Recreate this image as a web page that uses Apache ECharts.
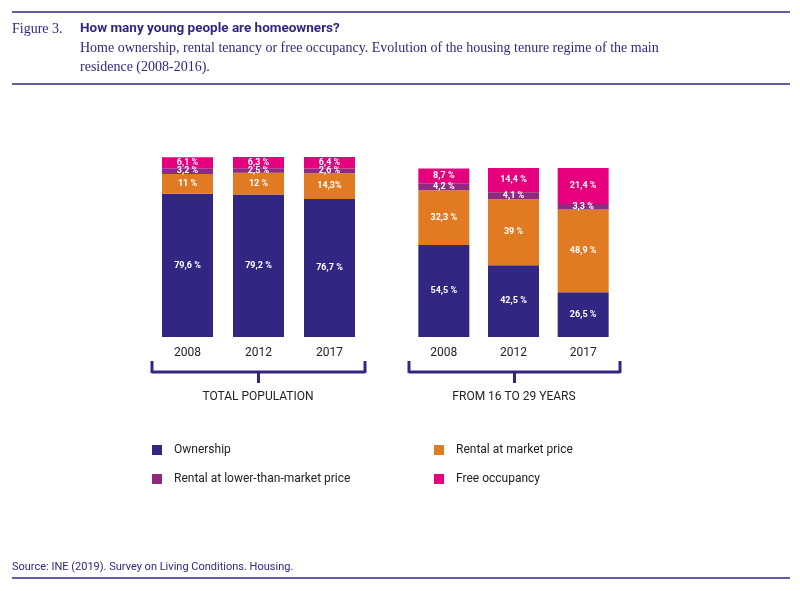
<!DOCTYPE html>
<html>
<head>
<meta charset="utf-8">
<script src="https://cdn.jsdelivr.net/npm/echarts@6/dist/echarts.min.js"></script>
<style>html,body{margin:0;padding:0;background:#fff}#chart{width:800px;height:591px}</style>
</head>
<body>
<div id="chart"></div>
<script>
const NAVY = "#312783";
const COLORS = { own: "#312783", market: "#e07b24", lower: "#8e2a82", free: "#e6007e" };
const years = ["2008", "2012", "2017"];

// values and printed labels, bottom to top
const total = {
  own: [79.6, 79.2, 76.7], ownL: ["79,6 %", "79,2 %", "76,7 %"],
  market: [11, 12, 14.3], marketL: ["11 %", "12 %", "14,3%"],
  lower: [3.2, 2.5, 2.6], lowerL: ["3,2 %", "2,5 %", "2,6 %"],
  free: [6.1, 6.3, 6.4], freeL: ["6,1 %", "6,3 %", "6,4 %"],
};
const young = {
  own: [54.5, 42.5, 26.5], ownL: ["54,5 %", "42,5 %", "26,5 %"],
  market: [32.3, 39, 48.9], marketL: ["32,3 %", "39 %", "48,9 %"],
  lower: [4.2, 4.1, 3.3], lowerL: ["4,2 %", "4,1 %", "3,3 %"],
  free: [8.7, 14.4, 21.4], freeL: ["8,7 %", "14,4 %", "21,4 %"],
};
const names = { own: "Ownership", market: "Rental at market price", lower: "Rental at lower-than-market price", free: "Free occupancy" };

function makeSeries(d, idx) {
  return ["own", "market", "lower", "free"].map((k) => ({
    name: names[k], type: "bar", stack: "s" + idx, xAxisIndex: idx, yAxisIndex: idx,
    barWidth: 51, data: d[k],
    itemStyle: { color: COLORS[k] },
    label: { show: true, color: "#fff", fontSize: 9, fontWeight: "bold", fontFamily: "Roboto",
      formatter: (p) => d[k + "L"][p.dataIndex] },
  }));
}

const axisX = (idx) => ({ type: "category", gridIndex: idx, data: years, axisLine: { show: false }, axisTick: { show: false },
  axisLabel: { color: "#222", fontSize: 12, fontFamily: "Roboto", margin: 10 } });
const axisY = (idx) => ({ type: "value", gridIndex: idx, min: 0, max: 100, show: false });

const text = (x, y, t, style) => ({ type: "text", left: x, top: y, style: Object.assign({ text: t, fill: NAVY, fontSize: 12, fontFamily: "Roboto" }, style) });
const ctext = (x, y, t) => ({ type: "text", x: x, y: y, style: { text: t, fill: "#222", fontSize: 12, fontFamily: "Roboto", textAlign: "center" } });
const line = (x1, y1, x2, y2, w) => ({ type: "line", shape: { x1, y1, x2, y2 }, style: { stroke: NAVY, lineWidth: w || 2 } });
const bracket = (x1, x2) => {
  const c = (x1 + x2) / 2;
  return [line(x1, 372, x2, 372, 3), line(x1, 361, x1, 373, 3), line(x2, 361, x2, 373, 3), line(c, 372, c, 383, 3)];
};
const legendItem = (x, y, k) => [
  { type: "rect", shape: { x: x, y: y, width: 10, height: 10 }, style: { fill: COLORS[k] } },
  text(x + 22, y - 1, names[k], { fill: "#222", fontSize: 12 }),
];

const chart = echarts.init(document.getElementById("chart"));
chart.setOption({
  animation: false,
  grid: [
    { left: 152, width: 213, top: 157, height: 180 },
    { left: 409, width: 209, top: 168, height: 169 },
  ],
  xAxis: [axisX(0), axisX(1)],
  yAxis: [axisY(0), axisY(1)],
  series: [...makeSeries(total, 0), ...makeSeries(young, 1)],
  graphic: [
    line(12, 12, 790, 12, 1.5),
    line(12, 84, 790, 84, 1.5),
    line(12, 578, 790, 578, 1.5),
    text(12, 22, "Figure 3.", { fontFamily: "Liberation Serif", fontSize: 14 }),
    text(80, 22, "How many young people are homeowners?", { fontWeight: "bold", fontSize: 13.5 }),
    text(80, 41, "Home ownership, rental tenancy or free occupancy. Evolution of the housing tenure regime of the main", { fontFamily: "Liberation Serif", fontSize: 14 }),
    text(80, 60, "residence (2008-2016).", { fontFamily: "Liberation Serif", fontSize: 14 }),
    ...bracket(152, 365),
    ...bracket(409, 620),
    ctext(258, 391, "TOTAL POPULATION"),
    ctext(514, 391, "FROM 16 TO 29 YEARS"),
    ...legendItem(152, 445, "own"),
    ...legendItem(152, 474, "lower"),
    ...legendItem(434, 445, "market"),
    ...legendItem(434, 474, "free"),
    text(12, 562, "Source: INE (2019). Survey on Living Conditions. Housing.", { fontSize: 11 }),
  ],
});
</script>
</body>
</html>
